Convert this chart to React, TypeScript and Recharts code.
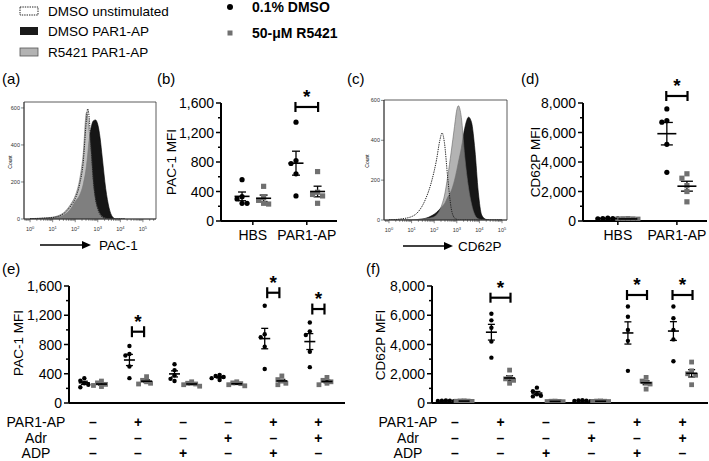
import React from 'react';
import {
  ScatterChart,
  Scatter,
  XAxis,
  YAxis,
  ErrorBar,
  ReferenceLine,
  ReferenceDot,
  ReferenceArea,
  AreaChart,
  Area,
} from 'recharts';

const FONT = '"Liberation Sans", Arial, Helvetica, sans-serif';

// ---------- flow histograms (x in log10 decades, y = count) ----------
const histAX = [0, 0.5, 1.0, 1.5, 1.8, 2.0, 2.2, 2.35, 2.5, 2.55, 2.6, 2.7, 2.8, 2.9, 3.0, 3.1, 3.2, 3.35, 3.5, 3.65, 3.8, 4.2];
const histAUnstim = [2, 4, 8, 30, 70, 110, 190, 300, 540, 595, 570, 400, 220, 110, 55, 25, 10, 3, 0, 0, 0, 0];
const histAR5421 = [2, 4, 10, 35, 80, 125, 215, 345, 575, 555, 500, 360, 190, 100, 55, 28, 12, 4, 1, 0, 0, 0];
const histADmso = [1, 3, 6, 22, 55, 95, 130, 185, 290, 345, 410, 490, 530, 535, 510, 440, 330, 165, 60, 12, 0, 0];

const histCX = [0, 0.5, 1.0, 1.3, 1.6, 1.9, 2.1, 2.25, 2.35, 2.45, 2.6, 2.75, 2.9, 3.0, 3.07, 3.2, 3.35, 3.52, 3.65, 3.8, 3.95, 4.1, 4.3, 4.6, 5.0];
const histCUnstim = [0, 5, 17, 42, 100, 200, 300, 400, 437, 390, 210, 60, 10, 3, 0, 0, 0, 0, 0, 0, 0, 0, 0, 0, 0];
const histCR5421 = [0, 0, 0, 2, 6, 12, 25, 50, 80, 120, 220, 340, 470, 553, 573, 515, 320, 160, 80, 25, 6, 2, 0, 0, 0];
const histCDmso = [0, 0, 0, 3, 8, 22, 38, 55, 68, 80, 115, 145, 200, 250, 290, 360, 460, 516, 490, 352, 140, 25, 3, 0, 0];

const histYTicks = [0, 200, 400, 600];
const histDecades = [0, 1, 2, 3, 4, 5];

// ---------- panel b / d ----------
const bdCategories = ['HBS', 'PAR1-AP'];
const panelBDmso = [[560, 330, 300, 240, 240], [1340, 820, 780, 640, 340]];
const panelBR5421 = [[470, 320, 280, 240, 230], [670, 390, 360, 340, 240]];
const panelBSig = [{ group: 1, y: 1546 }];

const panelDDmso = [[190, 170, 160, 150, 140], [7600, 6800, 6700, 5200, 3300]];
const panelDR5421 = [[160, 150, 140, 130, 120], [3200, 2900, 2400, 2000, 1300]];
const panelDSig = [{ group: 1, y: 8475 }];

// ---------- panel e / f ----------
const rowTitles = ['PAR1-AP', 'Adr', 'ADP'];
const par1apRow = ['–', '+', '–', '–', '+', '+'];
const adrRow = ['–', '–', '–', '+', '–', '+'];
const adpRow = ['–', '–', '+', '–', '+', '–'];

const panelEDmso = [
  [340, 305, 270, 250, 215],
  [780, 670, 650, 500, 340],
  [530, 450, 380, 330, 300],
  [385, 370, 355, 340, 315],
  [1330, 940, 900, 770, 465],
  [1100, 980, 930, 700, 490],
];
const panelER5421 = [
  [300, 275, 255, 240, 225],
  [360, 310, 290, 270, 260],
  [290, 270, 260, 250, 230],
  [290, 275, 265, 250, 235],
  [370, 320, 300, 270, 250],
  [350, 310, 290, 270, 250],
];
const panelESig = [{ group: 1, y: 975 }, { group: 4, y: 1508 }, { group: 5, y: 1285 }];

const panelFDmso = [
  [180, 160, 150, 140, 130],
  [6100, 5650, 5150, 4200, 3100],
  [1050, 800, 600, 500, 450],
  [200, 170, 150, 140, 120],
  [6600, 5900, 5000, 4250, 2200],
  [6600, 5800, 5000, 4350, 2850],
];
const panelFR5421 = [
  [150, 140, 130, 120, 110],
  [2250, 1750, 1650, 1550, 1350],
  [130, 120, 110, 100, 90],
  [140, 130, 120, 110, 100],
  [1750, 1500, 1400, 1300, 950],
  [2800, 2200, 2000, 1900, 1250],
];
const panelFSig = [{ group: 1, y: 7200 }, { group: 4, y: 7385 }, { group: 5, y: 7385 }];

// ---------- helpers ----------
function frame(r, yw, xh, mt, mr) {
  return {
    left: r.x0 - yw,
    top: r.y0 - mt,
    width: r.x1 - r.x0 + yw + mr,
    height: r.y1 - r.y0 + mt + xh,
    margin: { top: mt, right: mr, bottom: 0, left: 0 },
  };
}

// simple beeswarm: neighbours with close values get side slots
function swarm(vals, thr) {
  const placed = [];
  const order = [0, -1, 1, -2, 2, -3, 3];
  return [...vals].sort((a, b) => b - a).map((v) => {
    const used = placed.filter((p) => Math.abs(p.v - v) < thr).map((p) => p.slot);
    const slot = order.find((s) => !used.includes(s)) ?? 0;
    placed.push({ v, slot });
    return { v, slot };
  });
}

function meanSem(vals) {
  const n = vals.length;
  const m = vals.reduce((a, b) => a + b, 0) / n;
  const sd = Math.sqrt(vals.reduce((a, b) => a + (b - m) ** 2, 0) / (n - 1));
  return { m, sem: sd / Math.sqrt(n) };
}

function logTicks(domain) {
  const out = [];
  for (let d = -1; d <= 5; d++) {
    for (let k = 1; k <= 9; k++) {
      const v = d + Math.log10(k);
      if (v >= domain[0] && v <= domain[1]) out.push(v);
    }
  }
  return out;
}

const LogTick = (p) => {
  const v = p.payload.value;
  const major = histDecades.some((d) => Math.abs(d - v) < 1e-6);
  return (
    <g>
      <line x1={p.x} x2={p.x} y1={p.y} y2={p.y + (major ? 3.2 : 1.8)} stroke="#333" strokeWidth={0.6} />
      {major && (
        <text x={p.x} y={p.y + 12} textAnchor="middle" fontSize={5.5} fontFamily={FONT} fill="#333">
          10<tspan dy={-2.2} fontSize={4}>{Math.round(v)}</tspan>
        </text>
      )}
    </g>
  );
};

const HistYTick = (p) => (
  <g>
    <line x1={p.x - 3} x2={p.x} y1={p.y} y2={p.y} stroke="#333" strokeWidth={0.6} />
    <text x={p.x - 4} y={p.y + 2} textAnchor="end" fontSize={5.5} fontFamily={FONT} fill="#333">
      {p.payload.value}
    </text>
  </g>
);

function Histogram({ rect, xs, unstim, r5421, dmso, xDomain, yMax, grey }) {
  const f = frame(rect, 16, 20, 4, 4);
  const data = xs.map((x, i) => ({ x, unstim: unstim[i], r5421: r5421[i], dmso: dmso[i] }));
  return (
    <div style={{ position: 'absolute', left: f.left, top: f.top }}>
      <AreaChart width={f.width} height={f.height} data={data} margin={f.margin}>
        <XAxis
          dataKey="x"
          type="number"
          domain={xDomain}
          allowDataOverflow
          ticks={logTicks(xDomain)}
          interval={0}
          tick={LogTick}
          tickLine={false}
          tickSize={0}
          tickMargin={0}
          axisLine={{ stroke: '#333', strokeWidth: 0.8 }}
          height={20}
        />
        <YAxis
          type="number"
          domain={[0, yMax]}
          allowDataOverflow
          ticks={histYTicks}
          interval={0}
          tick={HistYTick}
          tickLine={false}
          tickSize={0}
          tickMargin={0}
          axisLine={{ stroke: '#333', strokeWidth: 0.8 }}
          width={16}
        />
        <Area dataKey="dmso" type="monotone" fill="#161616" fillOpacity={1} stroke="#000" strokeWidth={0.6} isAnimationActive={false} dot={false} />
        <Area dataKey="r5421" type="monotone" fill={grey} fillOpacity={0.72} stroke="#666" strokeWidth={0.6} isAnimationActive={false} dot={false} />
        <Area dataKey="unstim" type="monotone" fill="none" stroke="#222" strokeWidth={1} strokeDasharray="1.3 1" isAnimationActive={false} dot={false} />
        <ReferenceArea x1={xDomain[0]} x2={xDomain[1]} y1={0} y2={yMax} fill="none" stroke="#333" strokeWidth={0.8} ifOverflow="visible" />
      </AreaChart>
    </div>
  );
}

function DotPlot(props) {
  const { rect, mt, mr, xh, yMax, yStep, xDomain, dmso, r5421, sig, off, bOff, capH, meanHalf, semHalf, dotR, sqS, spread, xTick } = props;
  const f = frame(rect, 62, xh, mt, mr);
  const thr = yMax * 0.04;
  const groups = dmso.map((_, i) => i);
  const dots = dmso.flatMap((vals, g) => swarm(vals, thr).map((p) => ({ x: g - off, y: p.v, dx: p.slot * spread })));
  const squares = r5421.flatMap((vals, g) => swarm(vals, thr).map((p) => ({ x: g + off, y: p.v, dx: p.slot * spread })));
  const means = [
    ...dmso.map((vals, g) => { const s = meanSem(vals); return { x: g - off, y: s.m, err: s.sem }; }),
    ...r5421.map((vals, g) => { const s = meanSem(vals); return { x: g + off, y: s.m, err: s.sem }; }),
  ];
  const yTicks = [];
  for (let v = 0; v <= yMax; v += yStep / 2) yTicks.push(v);

  const YTick = (p) => {
    const v = p.payload.value;
    const major = v % yStep === 0;
    return (
      <g>
        <line x1={p.x - (major ? 5 : 3)} x2={p.x} y1={p.y} y2={p.y} stroke="#000" strokeWidth={1.5} />
        {major && (
          <text x={p.x - 7} y={p.y + 5} textAnchor="end" fontSize={14} fontFamily={FONT} fill="#000">
            {v.toLocaleString('en-US')}
          </text>
        )}
      </g>
    );
  };

  const dotShape = (p) => <circle cx={p.cx + (p.payload?.dx ?? p.dx ?? 0)} cy={p.cy} r={dotR} fill="#000" />;
  const sqShape = (p) => (
    <rect x={p.cx + (p.payload?.dx ?? p.dx ?? 0) - sqS / 2} y={p.cy - sqS / 2} width={sqS} height={sqS} fill="#707070" />
  );
  const meanShape = (p) => <line x1={p.cx - meanHalf} x2={p.cx + meanHalf} y1={p.cy} y2={p.cy} stroke="#000" strokeWidth={1.6} />;
  const line = { stroke: '#000', strokeWidth: 2.2, ifOverflow: 'visible' };

  return (
    <div style={{ position: 'absolute', left: f.left, top: f.top }}>
      <ScatterChart width={f.width} height={f.height} margin={f.margin}>
        <XAxis
          type="number"
          dataKey="x"
          domain={xDomain}
          allowDataOverflow
          ticks={groups}
          interval={0}
          tick={xTick}
          tickLine={false}
          tickSize={0}
          tickMargin={0}
          axisLine={{ stroke: '#000', strokeWidth: 2 }}
          height={xh}
        />
        <YAxis
          type="number"
          dataKey="y"
          domain={[0, yMax]}
          allowDataOverflow
          ticks={yTicks}
          interval={0}
          tick={YTick}
          tickLine={false}
          tickSize={0}
          tickMargin={0}
          axisLine={{ stroke: '#000', strokeWidth: 2 }}
          width={62}
        />
        <Scatter data={dots} shape={dotShape} isAnimationActive={false} />
        <Scatter data={squares} shape={sqShape} isAnimationActive={false} />
        <Scatter data={means} shape={meanShape} isAnimationActive={false}>
          <ErrorBar dataKey="err" direction="y" width={semHalf} stroke="#000" strokeWidth={1.3} />
        </Scatter>
        {sig.flatMap((s, i) => [
          <ReferenceLine key={`h${i}`} segment={[{ x: s.group - bOff, y: s.y }, { x: s.group + bOff, y: s.y }]} {...line} />,
          <ReferenceLine key={`l${i}`} segment={[{ x: s.group - bOff, y: s.y - capH }, { x: s.group - bOff, y: s.y + capH }]} {...line} />,
          <ReferenceLine key={`r${i}`} segment={[{ x: s.group + bOff, y: s.y - capH }, { x: s.group + bOff, y: s.y + capH }]} {...line} />,
          <ReferenceDot
            key={`s${i}`}
            x={s.group}
            y={s.y}
            r={0}
            ifOverflow="visible"
            shape={(p) => (
              <text x={p.cx} y={p.cy - 4} textAnchor="middle" fontSize={19} fontWeight="bold" fontFamily={FONT} fill="#000">
                *
              </text>
            )}
          />,
        ])}
      </ScatterChart>
    </div>
  );
}

const CatTick = (p) => (
  <g>
    <line x1={p.x} x2={p.x} y1={p.y} y2={p.y + 4} stroke="#000" strokeWidth={1.5} />
    <text x={p.x} y={p.y + 19} textAnchor="middle" fontSize={14} fontFamily={FONT} fill="#000">
      {bdCategories[p.payload.value]}
    </text>
  </g>
);

const SignTick = (p) => (
  <g>
    {[par1apRow, adrRow, adpRow].map((row, r) => (
      <text key={r} x={p.x} y={p.y + 24 + r * 15.5} textAnchor="middle" fontSize={14} fontWeight="bold" fontFamily={FONT} fill="#000">
        {row[p.payload.value]}
      </text>
    ))}
  </g>
);

function Overlay() {
  const t = { fontFamily: FONT, fill: '#000' };
  return (
    <svg width={709} height={461} style={{ position: 'absolute', left: 0, top: 0, pointerEvents: 'none' }}>
      {/* legend */}
      <rect x={20} y={7} width={18} height={8} fill="#fff" stroke="#222" strokeWidth={1} strokeDasharray="1.4 1" />
      <rect x={20} y={27} width={18} height={8} fill="#1a1a1a" />
      <rect x={20} y={48} width={18} height={8} fill="#b3b3b3" stroke="#555" strokeWidth={0.8} />
      <text x={48} y={16} fontSize={13.5} {...t}>DMSO unstimulated</text>
      <text x={48} y={36} fontSize={13.5} {...t}>DMSO PAR1-AP</text>
      <text x={48} y={57} fontSize={13.5} {...t}>R5421 PAR1-AP</text>
      <circle cx={230} cy={7} r={3} fill="#000" />
      <rect x={227.5} y={30.5} width={5} height={5} fill="#707070" />
      <text x={252} y={12} fontSize={14} fontWeight="bold" {...t}>0.1% DMSO</text>
      <text x={252} y={38} fontSize={14} fontWeight="bold" {...t}>50-μM R5421</text>

      {/* panel letters */}
      <text x={2} y={84} fontSize={15} {...t}>(a)</text>
      <text x={157} y={84} fontSize={15} {...t}>(b)</text>
      <text x={347} y={84} fontSize={15} {...t}>(c)</text>
      <text x={521} y={84} fontSize={15} {...t}>(d)</text>
      <text x={2} y={274} fontSize={15} {...t}>(e)</text>
      <text x={366} y={274} fontSize={15} {...t}>(f)</text>

      {/* axis titles */}
      <text transform="translate(176,162) rotate(-90)" textAnchor="middle" fontSize={13.5} {...t}>PAC-1 MFI</text>
      <text transform="translate(540,162) rotate(-90)" textAnchor="middle" fontSize={13.5} {...t}>CD62P MFI</text>
      <text transform="translate(23,343) rotate(-90)" textAnchor="middle" fontSize={13.5} {...t}>PAC-1 MFI</text>
      <text transform="translate(385,345) rotate(-90)" textAnchor="middle" fontSize={13.5} {...t}>CD62P MFI</text>
      <text transform="translate(12,162) rotate(-90)" textAnchor="middle" fontSize={5} {...t}>Count</text>
      <text transform="translate(369,161) rotate(-90)" textAnchor="middle" fontSize={5} {...t}>Count</text>

      {/* marker arrows */}
      <line x1={40} x2={83} y1={245} y2={245} stroke="#000" strokeWidth={1.3} />
      <polygon points="82,241 91,245 82,249" fill="#000" />
      <text x={99} y={250} fontSize={13.5} {...t}>PAC-1</text>
      <line x1={403} x2={445} y1={246} y2={246} stroke="#000" strokeWidth={1.3} />
      <polygon points="444,242 453,246 444,250" fill="#000" />
      <text x={458} y={251} fontSize={13.5} {...t}>CD62P</text>

      {/* treatment row titles */}
      {rowTitles.map((r, i) => (
        <text key={`e${r}`} x={36} y={427 + i * 15.5} textAnchor="middle" fontSize={14} {...t}>{r}</text>
      ))}
      {rowTitles.map((r, i) => (
        <text key={`f${r}`} x={408} y={427 + i * 15.5} textAnchor="middle" fontSize={14} {...t}>{r}</text>
      ))}
    </svg>
  );
}

export default function App() {
  return (
    <div style={{ position: 'absolute', left: 0, top: 0, width: 709, height: 461, overflow: 'hidden', background: '#fff', fontFamily: FONT }}>
      <Histogram
        rect={{ x0: 24, y0: 102, x1: 156, y1: 219 }}
        xs={histAX}
        unstim={histAUnstim}
        r5421={histAR5421}
        dmso={histADmso}
        xDomain={[-0.27, 5.58]}
        yMax={632}
        grey="#a8a8a8"
      />
      <Histogram
        rect={{ x0: 384, y0: 100, x1: 507, y1: 220 }}
        xs={histCX}
        unstim={histCUnstim}
        r5421={histCR5421}
        dmso={histCDmso}
        xDomain={[-0.22, 5.22]}
        yMax={602}
        grey="#959595"
      />
      <DotPlot
        rect={{ x0: 221, y0: 103, x1: 337, y1: 221 }}
        mt={30}
        mr={12}
        xh={26}
        yMax={1600}
        yStep={400}
        xDomain={[-0.59, 1.56]}
        dmso={panelBDmso}
        r5421={panelBR5421}
        sig={panelBSig}
        off={0.2}
        bOff={0.21}
        capH={68}
        meanHalf={7.5}
        semHalf={4}
        dotR={2.6}
        sqS={5.2}
        spread={5}
        xTick={CatTick}
      />
      <DotPlot
        rect={{ x0: 583, y0: 103, x1: 707, y1: 221 }}
        mt={30}
        mr={2}
        xh={26}
        yMax={8000}
        yStep={2000}
        xDomain={[-0.59, 1.51]}
        dmso={panelDDmso}
        r5421={panelDR5421}
        sig={panelDSig}
        off={0.17}
        bOff={0.18}
        capH={339}
        meanHalf={9.5}
        semHalf={6}
        dotR={2.6}
        sqS={5.2}
        spread={5}
        xTick={CatTick}
      />
      <DotPlot
        rect={{ x0: 69, y0: 286, x1: 345, y1: 403 }}
        mt={24}
        mr={10}
        xh={58}
        yMax={1600}
        yStep={400}
        xDomain={[-0.53, 5.59]}
        dmso={panelEDmso}
        r5421={panelER5421}
        sig={panelESig}
        off={0.19}
        bOff={0.135}
        capH={75}
        meanHalf={5.5}
        semHalf={3.5}
        dotR={2.2}
        sqS={4.8}
        spread={4}
        xTick={SignTick}
      />
      <DotPlot
        rect={{ x0: 432, y0: 286, x1: 708, y1: 403 }}
        mt={24}
        mr={1}
        xh={58}
        yMax={8000}
        yStep={2000}
        xDomain={[-0.505, 5.56]}
        dmso={panelFDmso}
        r5421={panelFR5421}
        sig={panelFSig}
        off={0.2}
        bOff={0.22}
        capH={342}
        meanHalf={5.5}
        semHalf={3.5}
        dotR={2.2}
        sqS={4.8}
        spread={4}
        xTick={SignTick}
      />
      <Overlay />
    </div>
  );
}
